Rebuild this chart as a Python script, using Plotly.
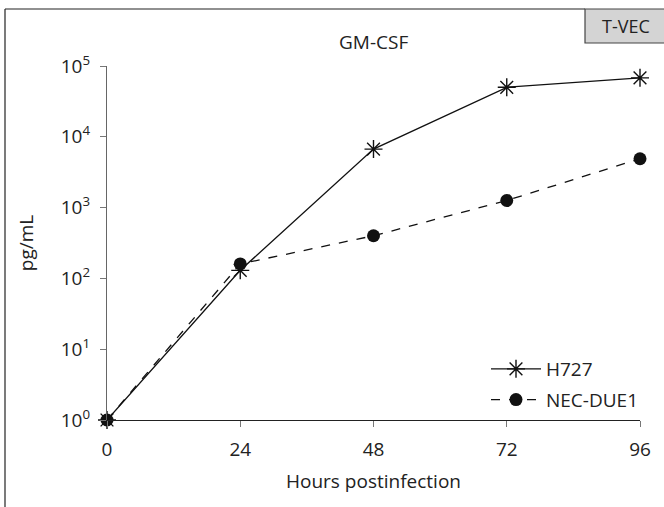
import plotly.graph_objects as go

hours = [0, 24, 48, 72, 96]
h727 = [1, 130, 6700, 50000, 68000]
nec_due1 = [1, 160, 400, 1260, 4900]
y_tickvals = [1, 10, 100, 1000, 10000, 100000]
y_ticktext = ["10<sup>0</sup>", "10<sup>1</sup>", "10<sup>2</sup>", "10<sup>3</sup>", "10<sup>4</sup>", "10<sup>5</sup>"]
x_tickvals = [0, 24, 48, 72, 96]

FONT = "Open Sans"
FS = 19
fig = go.Figure()
fig.add_trace(go.Scatter(
    x=hours, y=h727, name="H727", mode="lines+markers", legendgroup="a",
    line=dict(color="#111", width=1.3),
    marker=dict(symbol="asterisk-open", size=15, color="#111", line=dict(width=1.4, color="#111")),
    cliponaxis=False))
fig.add_trace(go.Scatter(
    x=hours, y=nec_due1, name="NEC-DUE1", mode="lines+markers", legendgroup="b",
    line=dict(color="#111", width=1.3, dash="dash"),
    marker=dict(symbol="circle", size=13, color="#111"),
    cliponaxis=False))

W, H = 664, 507
L, R, T, B = 107, 24, 66, 87
pw, ph = W - L - R, H - T - B
def px(x): return (x - L) / pw
def py(y): return (H - B - y) / ph

shapes = [
    dict(type="line", xref="paper", yref="paper", x0=px(5), x1=px(5), y0=py(9), y1=py(507), line=dict(color="#222", width=1.2)),
    dict(type="line", xref="paper", yref="paper", x0=px(5), x1=px(585), y0=py(9), y1=py(9), line=dict(color="#222", width=1.2)),
    dict(type="rect", xref="paper", yref="paper", x0=px(585), x1=px(666), y0=py(43), y1=py(9), fillcolor="#d4d4d4", line=dict(color="#444", width=1.2)),
]

fig.update_layout(
    width=W, height=H, margin=dict(l=L, r=R, t=T, b=B),
    paper_bgcolor="white", plot_bgcolor="white",
    font=dict(family=FONT, size=FS, color="#222"),
    shapes=shapes,
    annotations=[
        dict(text="T-VEC", xref="paper", yref="paper", x=px(626), y=py(26), xanchor="center", yanchor="middle",
             showarrow=False, font=dict(family=FONT, size=18, color="#222")),
        dict(text="GM-CSF", xref="paper", yref="paper", x=px(373), y=py(42), xanchor="center", yanchor="middle",
             showarrow=False, font=dict(family=FONT, size=FS, color="#222")),
    ],
    showlegend=True,
    legend=dict(x=px(486), y=py(350), xanchor="left", yanchor="top", bgcolor="rgba(0,0,0,0)",
                font=dict(family=FONT, size=FS, color="#222"), tracegroupgap=3, itemwidth=50),
    xaxis=dict(range=[0, 96], tickvals=x_tickvals, showline=True, linecolor="#222", linewidth=1.2,
               ticks="outside", ticklen=6, tickcolor="#777", showgrid=False, zeroline=False,
               ticklabelstandoff=6,
               title=dict(text="Hours postinfection", standoff=13, font=dict(family=FONT, size=FS, color="#222")),
               tickfont=dict(family=FONT, size=FS, color="#222")),
    yaxis=dict(type="log", range=[0, 5], tickvals=y_tickvals, ticktext=y_ticktext, showline=True,
               linecolor="#666", linewidth=1.2, ticks="outside", ticklen=6, tickcolor="#777",
               showgrid=False, zeroline=False, ticklabelstandoff=6,
               title=dict(text="pg/mL", standoff=22, font=dict(family=FONT, size=FS, color="#222")),
               tickfont=dict(family=FONT, size=FS, color="#222")),
)
fig.write_html("out.html")
